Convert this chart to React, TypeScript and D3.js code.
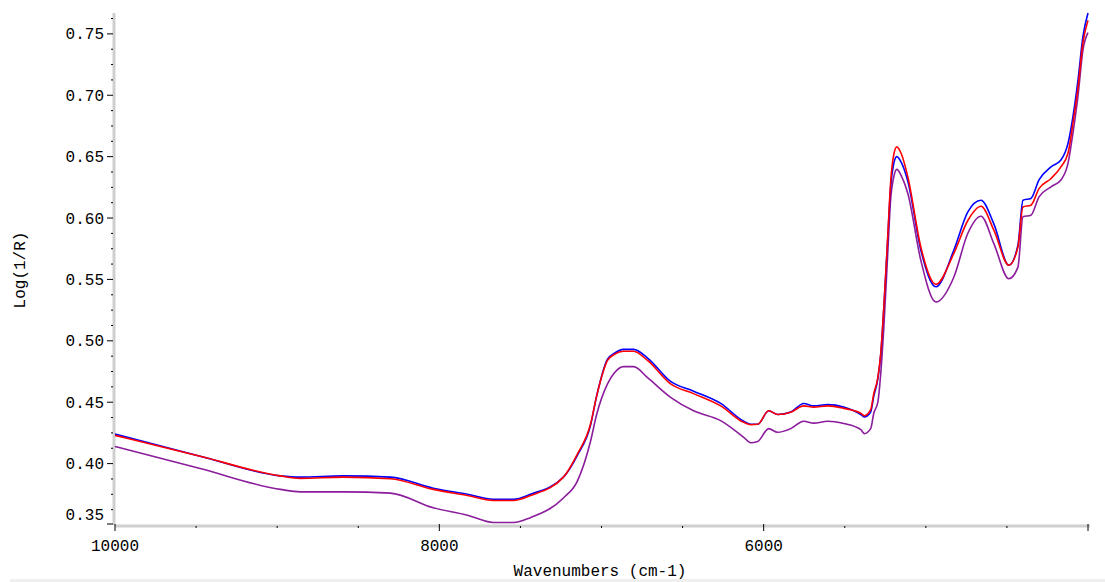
import React from "react";
import * as d3 from "d3";

const wavenumbers = [10000, 9475, 8981, 8858, 8593, 8302, 8037, 7827, 7667, 7543, 7438, 7235, 7148, 7068, 7030, 6963, 6920, 6864, 6802, 6716, 6574, 6432, 6265, 6123, 6080, 6037, 5969, 5914, 5833, 5753, 5691, 5605, 5506, 5401, 5380, 5340, 5321, 5296, 5278, 5259, 5235, 5216, 5200, 5179, 5150, 5111, 5031, 4938, 4827, 4741, 4660, 4580, 4488, 4432, 4401, 4352, 4302, 4228, 4167, 4123, 4093, 4062, 4031, 4000];

const redValues = [0.423, 0.406, 0.39, 0.388, 0.389, 0.3877, 0.379, 0.374, 0.37, 0.37, 0.374, 0.389, 0.408, 0.432, 0.455, 0.484, 0.489, 0.4915, 0.4915, 0.484, 0.465, 0.457, 0.447, 0.4336, 0.4317, 0.432, 0.443, 0.44, 0.4418, 0.447, 0.446, 0.447, 0.445, 0.441, 0.439, 0.444, 0.457, 0.47, 0.4897, 0.5275, 0.5846, 0.631, 0.65, 0.658, 0.652, 0.6335, 0.5764, 0.546, 0.5713, 0.598, 0.6096, 0.59, 0.5615, 0.5764, 0.609, 0.6105, 0.624, 0.6322, 0.6417, 0.653, 0.677, 0.706, 0.743, 0.761];

const blueValues = [0.424, 0.406, 0.39, 0.389, 0.39, 0.389, 0.38, 0.375, 0.371, 0.371, 0.375, 0.389, 0.407, 0.431, 0.455, 0.485, 0.49, 0.493, 0.493, 0.486, 0.467, 0.459, 0.449, 0.4345, 0.432, 0.432, 0.443, 0.44, 0.442, 0.449, 0.447, 0.448, 0.446, 0.44, 0.438, 0.442, 0.455, 0.469, 0.489, 0.527, 0.583, 0.627, 0.643, 0.65, 0.645, 0.63, 0.574, 0.544, 0.574, 0.605, 0.6145, 0.595, 0.5615, 0.578, 0.6145, 0.616, 0.631, 0.6417, 0.6472, 0.661, 0.6825, 0.712, 0.748, 0.767];

const purpleValues = [0.414, 0.396, 0.379, 0.377, 0.377, 0.376, 0.364, 0.358, 0.352, 0.352, 0.356, 0.372, 0.386, 0.418, 0.44, 0.465, 0.474, 0.479, 0.479, 0.47, 0.454, 0.443, 0.435, 0.4214, 0.417, 0.418, 0.4285, 0.4255, 0.4285, 0.4345, 0.433, 0.4345, 0.4326, 0.4277, 0.4244, 0.4285, 0.441, 0.45, 0.4735, 0.511, 0.571, 0.617, 0.632, 0.6396, 0.634, 0.62, 0.5656, 0.5316, 0.552, 0.5876, 0.6015, 0.579, 0.5506, 0.56, 0.601, 0.6023, 0.6172, 0.6254, 0.631, 0.6447, 0.669, 0.699, 0.737, 0.751];

const yTickValues = [0.35, 0.4, 0.45, 0.5, 0.55, 0.6, 0.65, 0.7, 0.75];
const xMajorTicks = [10000, 8000, 6000, 4000];
const xLabeledTicks = [10000, 8000, 6000];

const FONT = "'Liberation Mono', 'DejaVu Sans Mono', monospace";

export default function App() {
  const W = 1105;
  const H = 582;
  const x0 = 115, x1 = 1088, yTop = 13, yBot = 525;
  const x = d3.scaleLinear().domain([10000, 4000]).range([x0, x1]);
  const y = d3.scaleLinear().domain([0.35, 0.767]).range([yBot, yTop]);

  const line = d3
    .line<number>()
    .x((_, i) => x(wavenumbers[i]))
    .y((v) => y(v))
    .curve(d3.curveMonotoneX);

  const yMinor = d3.range(0.35, 0.767, 0.0125).filter(
    (v) => !yTickValues.some((t) => Math.abs(t - v) < 1e-6)
  );
  const xMinor = d3.range(10000, 3999, -500).filter((v) => !xMajorTicks.includes(v));

  const series = [
    { values: purpleValues, color: "#8B1C9C" },
    { values: blueValues, color: "#0000FF" },
    { values: redValues, color: "#FF0000" },
  ];

  return (
    <svg
      width={W}
      height={H}
      style={{ position: "absolute", left: 0, top: 0, background: "#fff" }}
    >
      <rect x={0} y={0} width={W} height={H} fill="#fff" />
      <line x1={x0 - 1} x2={x0 - 1} y1={yTop} y2={yBot} stroke="#cfcfcf" strokeWidth={3} />
      <line x1={x0} x2={x1 + 2} y1={yBot + 1} y2={yBot + 1} stroke="#cfcfcf" strokeWidth={3} />

      {yMinor.map((v, i) => (
        <line key={"ym" + i} x1={x0 - 4} x2={x0 - 2} y1={y(v)} y2={y(v)} stroke="#000" strokeWidth={1} />
      ))}
      {yTickValues.map((v) => (
        <g key={"y" + v}>
          <line x1={x0 - 8} x2={x0 - 2} y1={Math.min(y(v), yBot - 1)} y2={Math.min(y(v), yBot - 1)} stroke="#000" strokeWidth={1} />
          <text
            x={x0 - 11}
            y={v === 0.35 ? 514 : y(v)}
            dy="0.35em"
            textAnchor="end"
            fontFamily={FONT}
            fontSize={16}
            fill="#000"
          >
            {v.toFixed(2)}
          </text>
        </g>
      ))}

      {xMinor.map((v) => (
        <line key={"xm" + v} x1={x(v)} x2={x(v)} y1={yBot + 1} y2={yBot + 3} stroke="#000" strokeWidth={1} />
      ))}
      {xMajorTicks.map((v) => (
        <line key={"xM" + v} x1={x(v)} x2={x(v)} y1={yBot - 1} y2={yBot + 6} stroke="#000" strokeWidth={1} />
      ))}
      {xLabeledTicks.map((v) => (
        <text
          key={"xl" + v}
          x={x(v)}
          y={551}
          textAnchor="middle"
          fontFamily={FONT}
          fontSize={16}
          fill="#000"
        >
          {v}
        </text>
      ))}

      {series.map((s, i) => (
        <path
          key={i}
          d={line(s.values) || ""}
          fill="none"
          stroke={s.color}
          strokeWidth={1.6}
          strokeLinejoin="round"
        />
      ))}

      <text x={600} y={576} textAnchor="middle" fontFamily={FONT} fontSize={16} fill="#000">
        Wavenumbers (cm-1)
      </text>
      <text
        transform="translate(25,270) rotate(-90)"
        textAnchor="middle"
        fontFamily={FONT}
        fontSize={16}
        fill="#000"
      >
        Log(1/R)
      </text>

      <rect x={10} y={579} width={W - 10} height={3} fill="#efefef" />
    </svg>
  );
}
